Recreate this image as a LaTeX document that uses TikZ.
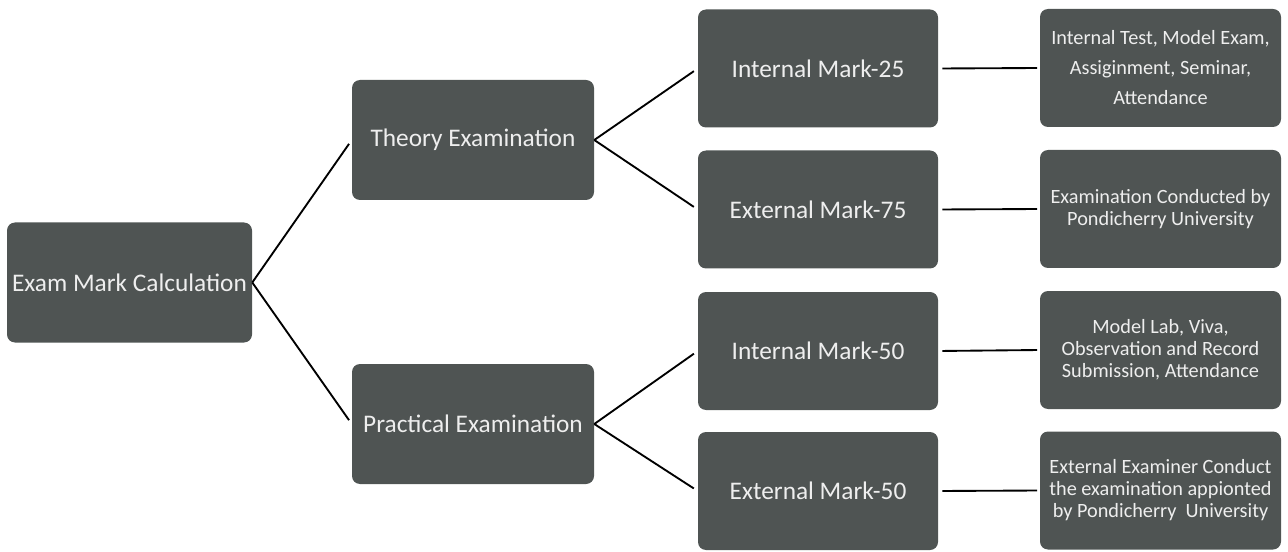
\documentclass[tikz,border=0pt]{standalone}
\usepackage{fontspec}
\setmainfont{Carlito}
\definecolor{boxgray}{RGB}{79,84,83}
\definecolor{boxtext}{RGB}{238,238,238}
\tikzset{
	box/.style={fill=boxgray, rounded corners=6pt, text=boxtext, align=center, inner sep=0pt,
		minimum width=181.5pt, minimum height=90pt, font=\fontsize{19}{23}\selectfont},
	markbox/.style={box, minimum width=180pt, minimum height=88.5pt},
	detail/.style={box, minimum width=180.75pt, minimum height=88.5pt, font=\fontsize{15.2}{16.5}\selectfont},
	link/.style={line width=1.4pt},
}
\begin{document}
\begin{tikzpicture}[x=0.75pt,y=-0.75pt]
\useasboundingbox (0,0) rectangle (1288,552);

\node [box, minimum width=183.75pt] (exam) at (129.5,282.5) {Exam Mark Calculation};
\node [box] (theory) at (473,140) {Theory Examination};
\node [box] (practical) at (473,424) {Practical Examination};

\node [markbox] (int25) at (818,68.5) {Internal Mark-25};
\node [markbox] (ext75) at (818,209.5) {External Mark-75};
\node [markbox] (int50) at (818,351) {Internal Mark-50};
\node [markbox] (ext50) at (818,491) {External Mark-50};

\node [detail, font=\fontsize{15.2}{22.5}\selectfont] (int25info) at (1160.5,68) {Internal Test, Model Exam,\\Assiginment, Seminar,\\Attendance};
\node [detail] (ext75info) at (1160.5,209) {Examination Conducted by\\Pondicherry University};
\node [detail] (int50info) at (1160.5,350) {Model Lab, Viva,\\Observation and Record\\Submission, Attendance};
\node [detail] (ext50info) at (1160.5,490.5) {External Examiner Conduct\\the examination appionted\\by Pondicherry~~University};

\foreach \a/\b in {exam/theory,exam/practical,theory/int25,theory/ext75,practical/int50,practical/ext50} {
	\draw [link, shorten >=3.5pt] (\a.east) -- (\b.west);
}
\foreach \a/\b in {int25/int25info,ext75/ext75info,int50/int50info,ext50/ext50info} {
	\draw [link, shorten <=3pt, shorten >=2pt] (\a.east) -- (\b.west);
}

\end{tikzpicture}
\end{document}
